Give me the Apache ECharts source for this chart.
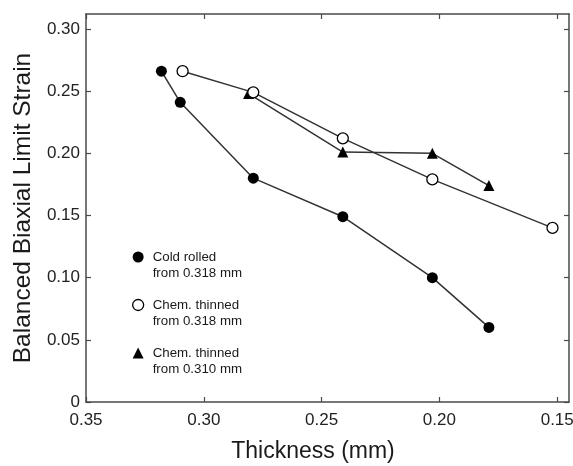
<!DOCTYPE html>
<html><head><meta charset="utf-8">
<script src="https://cdn.jsdelivr.net/npm/echarts@6/dist/echarts.min.js"></script>
<style>html,body{margin:0;padding:0;background:#fff}#c{width:573px;height:466px}</style>
</head><body><div id="c"></div>
<script>
// Data
const coldThickness   = [0.318, 0.310, 0.279, 0.241, 0.203, 0.179];
const coldStrain      = [0.266, 0.241, 0.180, 0.149, 0.100, 0.060];
const chem318Thickness = [0.309, 0.279, 0.241, 0.203, 0.152];
const chem318Strain    = [0.266, 0.249, 0.212, 0.179, 0.140];
const chem310Thickness = [0.281, 0.241, 0.203, 0.179];
const chem310Strain    = [0.248, 0.201, 0.200, 0.174];
const xTicks = [0.35, 0.30, 0.25, 0.20, 0.15];
const yTicks = [0, 0.05, 0.10, 0.15, 0.20, 0.25, 0.30];
const seriesNames = ['Cold rolled\nfrom 0.318 mm', 'Chem. thinned\nfrom 0.318 mm', 'Chem. thinned\nfrom 0.310 mm'];
const xTitle = 'Thickness (mm)';
const yTitle = 'Balanced Biaxial Limit Strain';

const zip = (a, b) => a.map((v, i) => [v, b[i]]);
const FONT = '"Liberation Sans", Arial, Helvetica, sans-serif';
const AX = '#4a4a4a';
const LINE = '#333';

const xBase = {
  type: 'value', inverse: true, min: 0.145, max: 0.35,
  axisLine: { show: true, onZero: false, lineStyle: { color: AX, width: 1.5 } },
  axisTick: { show: true, inside: true, length: 5, customValues: xTicks, lineStyle: { color: AX, width: 1.2 } },
  splitLine: { show: false }
};
const yBase = {
  type: 'value', min: 0, max: 0.312,
  axisLine: { show: true, onZero: false, lineStyle: { color: AX, width: 1.5 } },
  axisTick: { show: true, inside: true, length: 5, customValues: yTicks, lineStyle: { color: AX, width: 1.2 } },
  splitLine: { show: false }
};

const chart = echarts.init(document.getElementById('c'), null, { renderer: 'canvas' });
chart.setOption({
  animation: false,
  backgroundColor: '#fff',
  textStyle: { fontFamily: FONT },
  grid: { left: 86, right: 4, top: 14, bottom: 64, containLabel: false, outerBoundsMode: 'none' },
  xAxis: [
    Object.assign({}, xBase, {
      position: 'bottom',
      name: xTitle, nameLocation: 'middle', nameGap: 38,
      nameTextStyle: { fontSize: 23, color: '#1a1a1a', fontFamily: FONT, padding: [0, 29, 0, 0] },
      axisLabel: { show: true, customValues: xTicks, margin: 10, fontSize: 17, color: '#222', fontFamily: FONT,
        formatter: v => v.toFixed(2) }
    }),
    Object.assign({}, xBase, { position: 'top', axisLabel: { show: false } })
  ],
  yAxis: [
    Object.assign({}, yBase, {
      position: 'left',
      name: yTitle, nameLocation: 'middle', nameGap: 50, nameRotate: 90,
      nameTextStyle: { fontSize: 24.5, color: '#1a1a1a', fontFamily: FONT },
      axisLabel: { show: true, customValues: yTicks, margin: 6, fontSize: 17, color: '#222', fontFamily: FONT,
        formatter: v => v === 0 ? '0' : v.toFixed(2) }
    }),
    Object.assign({}, yBase, { position: 'right', axisLabel: { show: false } })
  ],
  legend: {
    orient: 'vertical', left: 132, top: 233, padding: 0,
    itemWidth: 11, itemHeight: 11, itemGap: 0,
    selectedMode: false,
    formatter: name => ' \n' + name,
    textStyle: { fontSize: 13.3, color: '#1a1a1a', lineHeight: 16, padding: [0, 0, 0, 4], fontFamily: FONT },
    data: [
      { name: seriesNames[0], icon: 'circle', itemStyle: { color: '#000', borderWidth: 0 } },
      { name: seriesNames[1], icon: 'circle', itemStyle: { color: '#fff', borderColor: '#000', borderWidth: 1.3 } },
      { name: seriesNames[2], icon: 'triangle', itemStyle: { color: '#000', borderWidth: 0 } }
    ]
  },
  series: [
    {
      name: seriesNames[0], type: 'line', data: zip(coldThickness, coldStrain),
      symbol: 'circle', symbolSize: 11,
      lineStyle: { color: LINE, width: 1.5 },
      itemStyle: { color: '#000', borderWidth: 0 }, z: 3
    },
    {
      name: seriesNames[1], type: 'line', data: zip(chem318Thickness, chem318Strain),
      symbol: 'circle', symbolSize: 11,
      lineStyle: { color: LINE, width: 1.5 },
      itemStyle: { color: '#fff', borderColor: '#000', borderWidth: 1.3 }, z: 4
    },
    {
      name: seriesNames[2], type: 'line', data: zip(chem310Thickness, chem310Strain),
      symbol: 'triangle', symbolSize: 11,
      lineStyle: { color: LINE, width: 1.5 },
      itemStyle: { color: '#000', borderWidth: 0 }, z: 2
    }
  ]
});
</script>
</body></html>
